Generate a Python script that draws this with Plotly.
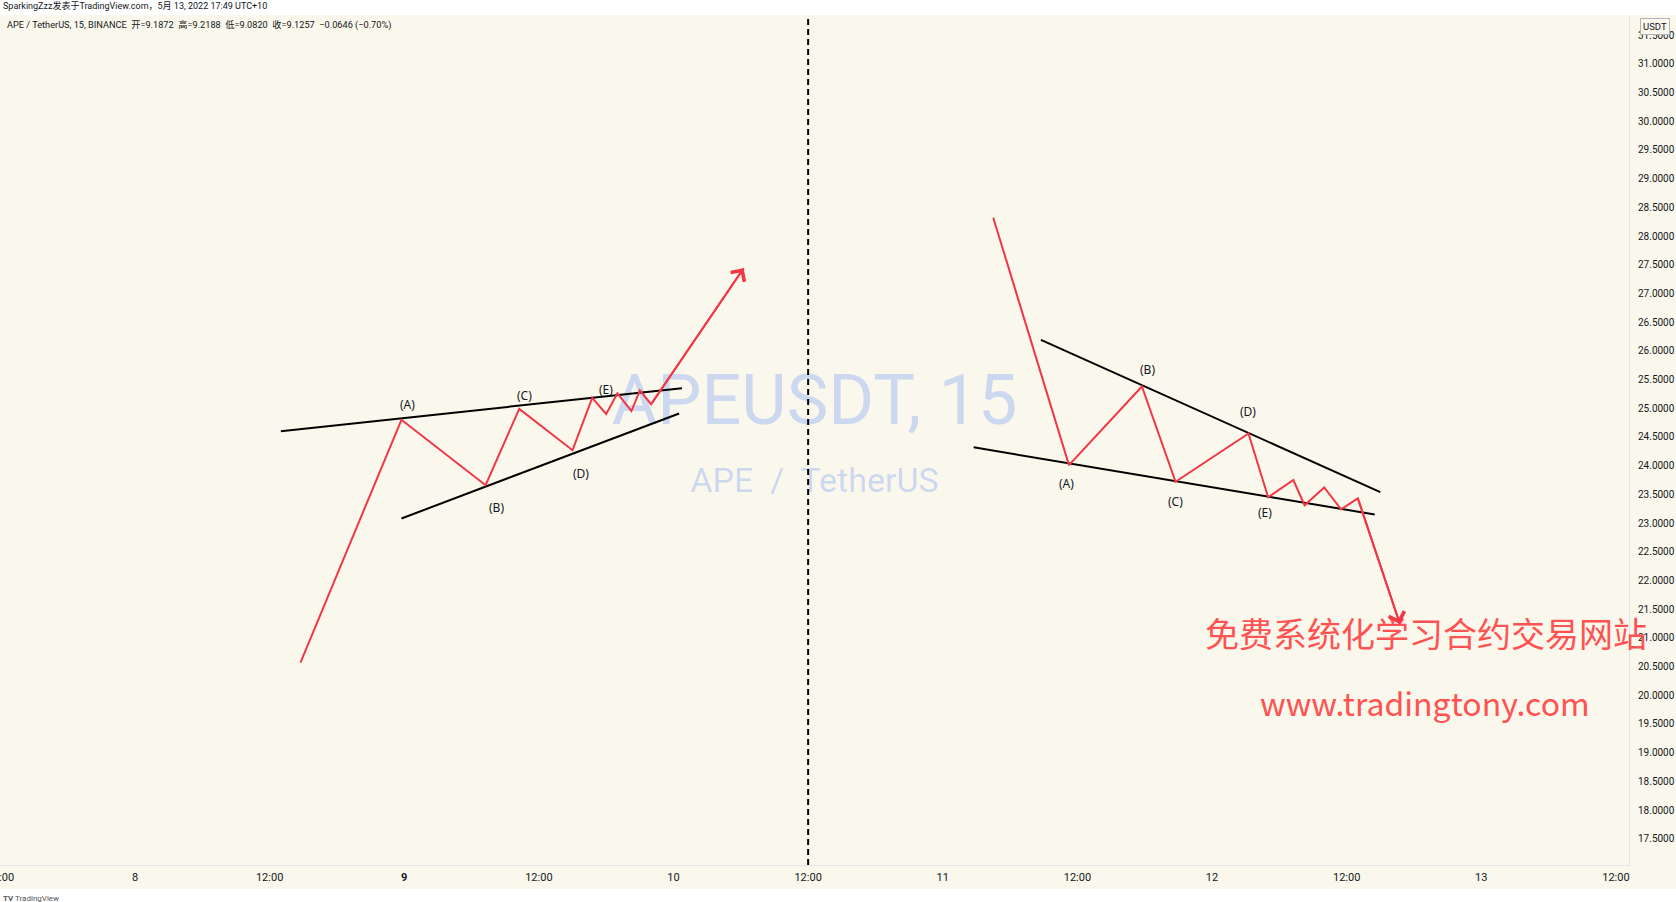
import plotly.graph_objects as go
from datetime import datetime

# ---------------- data ----------------
# Left pattern: wave points (time, price)
left_wave_time = ["2022-05-08 14:45", "2022-05-08 23:45", "2022-05-09 07:15", "2022-05-09 10:15",
                  "2022-05-09 15:00", "2022-05-09 16:45", "2022-05-09 18:00", "2022-05-09 19:00",
                  "2022-05-09 20:15", "2022-05-09 21:00", "2022-05-09 22:00", "2022-05-10 06:15"]
left_wave_price = [20.57, 24.80, 23.66, 24.99, 24.27, 25.18, 24.90, 25.26, 24.95, 25.31, 25.07, 27.44]

left_upper_time = ["2022-05-08 13:00", "2022-05-10 00:45"]
left_upper_price = [24.60, 25.35]
left_lower_time = ["2022-05-08 23:45", "2022-05-10 00:30"]
left_lower_price = [23.08, 24.91]

left_label_text = ["(A)", "(B)", "(C)", "(D)", "(E)"]
left_label_time = ["2022-05-09 00:15", "2022-05-09 08:15", "2022-05-09 10:45", "2022-05-09 15:45", "2022-05-09 18:00"]
left_label_price = [25.06, 23.27, 25.23, 23.87, 25.32]

# Right pattern
right_wave_time = ["2022-05-11 04:30", "2022-05-11 11:15", "2022-05-11 17:45", "2022-05-11 20:45",
                   "2022-05-12 03:15", "2022-05-12 05:00", "2022-05-12 07:15", "2022-05-12 08:15",
                   "2022-05-12 10:00", "2022-05-12 11:30", "2022-05-12 13:00", "2022-05-12 16:45"]
right_wave_price = [28.32, 24.01, 25.38, 23.72, 24.56, 23.45, 23.75, 23.31, 23.62, 23.24, 23.43, 21.24]

right_upper_time = ["2022-05-11 08:45", "2022-05-12 15:00"]
right_upper_price = [26.19, 23.54]
right_lower_time = ["2022-05-11 02:45", "2022-05-12 14:30"]
right_lower_price = [24.32, 23.15]

right_label_text = ["(A)", "(B)", "(C)", "(D)", "(E)"]
right_label_time = ["2022-05-11 11:00", "2022-05-11 18:15", "2022-05-11 20:45", "2022-05-12 03:15", "2022-05-12 04:45"]
right_label_price = [23.69, 25.68, 23.38, 24.95, 23.18]

split_time = "2022-05-10 12:00"

x_tick_times = ["2022-05-07 12:00", "2022-05-08 00:00", "2022-05-08 12:00", "2022-05-09 00:00",
                "2022-05-09 12:00", "2022-05-10 00:00", "2022-05-10 12:00", "2022-05-11 00:00",
                "2022-05-11 12:00", "2022-05-12 00:00", "2022-05-12 12:00", "2022-05-13 00:00",
                "2022-05-13 12:00"]
x_tick_labels = ["12:00", "8", "12:00", "9", "12:00", "10", "12:00", "11", "12:00", "12", "12:00", "13", "12:00"]

y_tick_values = [17.5 + 0.5 * i for i in range(29)]

x_range = ["2022-05-07 11:58", "2022-05-13 13:10"]
y_range = [17.043, 31.834]

header_line = "SparkingZzz发表于TradingView.com，5月 13, 2022 17:49 UTC+10"
legend_line = "APE / TetherUS, 15, BINANCE  开=9.1872  高=9.2188  低=9.0820  收=9.1257  −0.0646 (−0.70%)"
watermark_main = "APEUSDT, 15"
watermark_sub = "APE  /  TetherUS"
promo_cn = "免费系统化学习合约交易网站"
promo_url = "www.tradingtony.com"

# ---------------- style ----------------
BG = "#FAF8EC"
RED = "#F23645"
BLACK = "#000000"
TXT = "#131722"
WM = "rgba(41,98,255,0.22)"
PROMO = "#FF5252"

W, H = 1676, 902
ML, MR, MT, MB = 0, 47, 16, 37
PW, PH = W - ML - MR, H - MT - MB


def px_x(px):
    return (px - ML) / PW


def px_y(py):
    return (H - MB - py) / PH


fig = go.Figure()

# watermark as text traces (drawn below everything)
t0 = datetime.fromisoformat(x_range[0])
t1 = datetime.fromisoformat(x_range[1])
x_mid = t0 + (t1 - t0) / 2
wm_y_main = y_range[0] + px_y(406) * (y_range[1] - y_range[0])
wm_y_sub = y_range[0] + px_y(483) * (y_range[1] - y_range[0])
fig.add_trace(go.Scatter(x=[x_mid], y=[wm_y_main], mode="text", text=[watermark_main],
                         textfont=dict(size=70, color=WM, family="Roboto"),
                         hoverinfo="skip", showlegend=False))
fig.add_trace(go.Scatter(x=[x_mid], y=[wm_y_sub], mode="text", text=[watermark_sub],
                         textfont=dict(size=34, color=WM, family="Roboto"),
                         hoverinfo="skip", showlegend=False))

for tx, py in [(left_upper_time, left_upper_price), (left_lower_time, left_lower_price),
               (right_upper_time, right_upper_price), (right_lower_time, right_lower_price)]:
    fig.add_trace(go.Scatter(x=tx, y=py, mode="lines", line=dict(color=BLACK, width=2),
                             hoverinfo="skip", showlegend=False))

for tx, py in [(left_wave_time, left_wave_price), (right_wave_time, right_wave_price)]:
    fig.add_trace(go.Scatter(x=tx, y=py, mode="lines", line=dict(color=RED, width=2),
                             hoverinfo="skip", showlegend=False))

annotations = []
for txts, tms, prs in [(left_label_text, left_label_time, left_label_price),
                       (right_label_text, right_label_time, right_label_price)]:
    for t, tm, pr in zip(txts, tms, prs):
        annotations.append(dict(x=tm, y=pr, xref="x", yref="y", text=t, showarrow=False,
                                font=dict(size=12, color=TXT, family="Noto Sans")))

# promo texts
annotations.append(dict(x=px_x(1426), y=px_y(632), xref="paper", yref="paper", text=promo_cn,
                        showarrow=False, font=dict(size=34, color=PROMO, family="Noto Sans CJK SC"),
                        xanchor="center", yanchor="middle"))
annotations.append(dict(x=px_x(1425), y=px_y(702), xref="paper", yref="paper", text=promo_url,
                        showarrow=False, font=dict(size=32, color=PROMO, family="Noto Sans CJK SC"),
                        xanchor="center", yanchor="middle"))

# arrow heads
for tx, py in [(left_wave_time, left_wave_price), (right_wave_time, right_wave_price)]:
    annotations.append(dict(x=tx[-1], y=py[-1], ax=tx[-2], ay=py[-2], xref="x", yref="y",
                            axref="x", ayref="y", text="", showarrow=True, arrowhead=4,
                            arrowsize=1.6, arrowwidth=2, arrowcolor=RED))

# header texts
annotations.append(dict(x=px_x(1), y=px_y(6), xref="paper", yref="paper", text=header_line,
                        showarrow=False, xanchor="left", yanchor="middle",
                        font=dict(size=9, color=TXT, family="Roboto, Noto Sans CJK SC")))
annotations.append(dict(x=px_x(5), y=px_y(25), xref="paper", yref="paper", text=legend_line,
                        showarrow=False, xanchor="left", yanchor="middle",
                        font=dict(size=9.2, color=TXT, family="Roboto, Noto Sans CJK SC")))
annotations.append(dict(x=px_x(1655), y=px_y(27), xref="paper", yref="paper", text="USDT",
                        showarrow=False, xanchor="center", yanchor="middle",
                        bgcolor=BG, bordercolor="#B2B5BE", borderwidth=1, borderpad=2,
                        font=dict(size=9.5, color=TXT, family="Roboto")))
annotations.append(dict(x=px_x(1), y=px_y(898), xref="paper", yref="paper",
                        text="<b>TV</b> TradingView", showarrow=False, xanchor="left", yanchor="middle",
                        font=dict(size=8, color="#555", family="Roboto")))

shapes = [
    # white header strip
    dict(type="rect", xref="paper", yref="paper", x0=px_x(0), x1=px_x(W), y0=px_y(15), y1=px_y(0),
         fillcolor="white", line=dict(width=0), layer="below"),
    # white footer strip
    dict(type="rect", xref="paper", yref="paper", x0=px_x(0), x1=px_x(W), y0=px_y(H), y1=px_y(889),
         fillcolor="white", line=dict(width=0), layer="below"),
    # split dashed line
    dict(type="line", xref="x", yref="paper", x0=split_time, x1=split_time, y0=0, y1=1,
         line=dict(color=BLACK, width=2, dash="6px,4px")),
]

fig.update_layout(
    width=W, height=H,
    margin=dict(l=ML, r=MR, t=MT, b=MB, pad=0, autoexpand=False),
    paper_bgcolor=BG, plot_bgcolor=BG,
    showlegend=False,
    annotations=annotations,
    shapes=shapes,
    xaxis=dict(type="date", range=x_range, tickvals=x_tick_times, automargin=False,
               ticktext=[f"<b>{t}</b>" if t == "9" else t for t in x_tick_labels],
               showgrid=False, zeroline=False, showline=True, linecolor="#E0E3EB", linewidth=1,
               ticks="", ticklabelstandoff=2, ticklabeloverflow="allow",
               tickfont=dict(size=11, color=TXT, family="Roboto"),
               fixedrange=True),
    yaxis=dict(range=y_range, side="right", tickvals=y_tick_values, tickformat=".4f", automargin=False,
               showgrid=False, zeroline=False, showline=True, linecolor="#E0E3EB", linewidth=1,
               ticks="", ticklabelstandoff=6, ticklabeloverflow="allow",
               tickfont=dict(size=10, color=TXT, family="Roboto"),
               fixedrange=True),
)

fig.write_html("out.html", config={"displayModeBar": False},
               post_script="document.body.style.margin='0';document.body.style.overflow='hidden';")
